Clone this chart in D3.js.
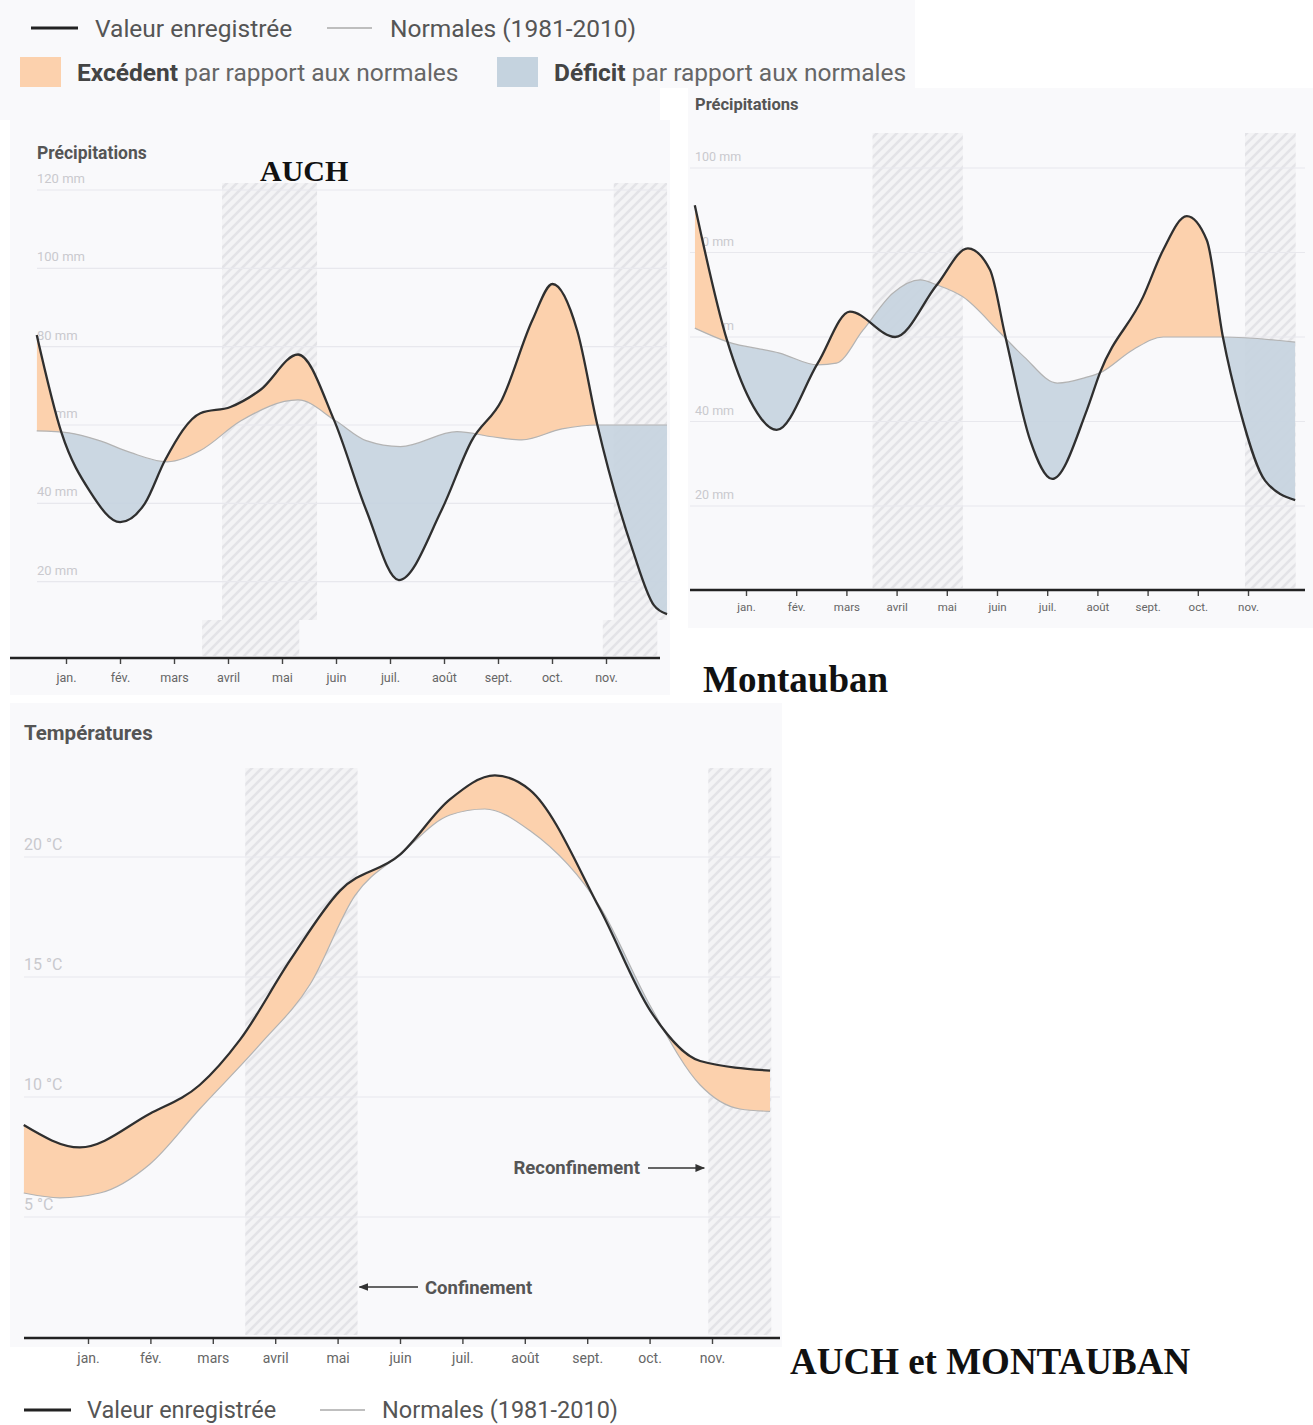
<!DOCTYPE html>
<html><head><meta charset="utf-8">
<script src="https://cdn.jsdelivr.net/npm/d3@7"></script>
<style>body{margin:0;background:#fff} svg{display:block}</style>
</head><body>
<svg id="c" width="1313" height="1425"></svg>
<script>
// ---------- DATA ----------
const months = ["jan.","fév.","mars","avril","mai","juin","juil.","août","sept.","oct.","nov."];
// confinement periods in months since 1 Jan 2020
const confinements = [[2.52, 4.32], [9.94, 10.95]];

// AUCH precipitation (mm)
const auchT    = [-0.99,-0.52,0.02,0.59,1.06,1.44,2.11,2.68,3.25,3.96,4.64,5.25,5.87,6.68,7.25,7.82,8.4,8.78,9.25,9.63,10.3,10.7,10.95];
const auchRain = [83,58,43,35.2,40,51,63,64.6,69,78,61.3,38.3,20.4,38.3,56,66.4,86.8,96,84,60,28,14,11.7];
const auchNormT = [-0.99,-0.38,0.2,0.78,1.48,2.11,2.87,3.96,4.68,5.25,5.9,6.97,7.64,8.2,8.96,9.63,10.95];
const auchNorm  = [58.5,58,56,53,50.6,53.5,61,66.4,61,56,54.5,58.3,57,56.2,59,60,60];

// MONTAUBAN precipitation (mm)
const montT    = [-1.02,-0.38,0.08,0.61,1.43,2.07,2.97,3.8,4.42,4.86,5.16,5.66,6.1,6.79,7.05,7.91,8.31,8.78,9.18,9.5,9.84,10.34,10.94];
const montRain = [91.2,59.3,45,38,53.8,66,60,72.3,81,75.9,60.5,35.6,26.4,42.7,51.5,69.5,80.6,88.6,82.9,60,42.7,26,21.4];
const montNormT = [-1.02,-0.38,0.67,1.43,1.8,2.33,2.93,3.47,3.81,4.32,5.06,5.54,6.2,6.79,7.05,7.71,8.31,9.5,10.94];
const montNorm  = [62.1,58.9,56.2,53.4,53.8,61.6,70.4,73.5,72.3,69.5,61,55.3,49.1,50.5,51.5,57,60,60,58.8];

// Temperatures (°C)
const tempT = [-1.03,-0.13,0.99,1.79,2.44,3.24,4.04,5.0,5.8,6.52,7.08,8.21,9.01,9.81,10.93];
const temp  = [8.83,7.9,9.3,10.5,12.4,15.7,18.6,20.1,22.4,23.4,22.8,17.8,13.6,11.5,11.1];
const tempNormT = [-1.03,-0.45,0.19,0.99,1.79,2.76,3.56,4.28,5.0,5.8,6.36,7.08,8.21,9.01,9.81,10.45,10.93];
const tempNorm  = [6.0,5.8,6.0,7.2,9.5,12.2,14.7,18.4,20.1,21.75,22.0,21.1,17.9,13.8,10.5,9.5,9.4];

const auchTicks = [20,40,60,80,100,120];
const montTicks = [20,40,60,80,100];
const tempTicks = [5,10,15,20];

// ---------- STYLE ----------
const COL = {excess:"#fcd1ad", deficit:"#c5d3df", rec:"#2f2f2f", norm:"#b3b3b3",
  grid:"#e8e8ed", ylab:"#c9c9ce", text:"#555", panel:"#f9f9fb"};
const SANS = "Roboto, 'Open Sans', sans-serif";
const SERIF = "'Liberation Serif', 'DejaVu Serif', serif";

const svg = d3.select("#c");
const defs = svg.append("defs");
const pat = defs.append("pattern").attr("id","hatch").attr("width",10).attr("height",10)
  .attr("patternUnits","userSpaceOnUse");
pat.append("rect").attr("width",10).attr("height",10).attr("fill","#f3f3f5");
pat.append("path").attr("d","M-1,1 l2,-2 M0,10 l10,-10 M9,11 l2,-2")
  .attr("stroke","#e3e3e7").attr("stroke-width",2.6);
const mk = defs.append("marker").attr("id","arr").attr("viewBox","0 0 10 10").attr("refX",9).attr("refY",5)
  .attr("markerWidth",7).attr("markerHeight",7).attr("orient","auto-start-reverse");
mk.append("path").attr("d","M0,1 L10,5 L0,9 z").attr("fill","#333");

// panels
const panels = [[0,0,660,120],[660,0,255,88],[10,120,660,575],[688,88,625,540],[10,703,772,644]];
panels.forEach(p=>svg.append("rect").attr("x",p[0]).attr("y",p[1]).attr("width",p[2]).attr("height",p[3]).attr("fill",COL.panel));

function pts(T,V){ return T.map((t,i)=>[t,V[i]]); }

function drawGrid(g, y, ticks, x1, x2, lx, fs, fmt){
  g.selectAll(null).data(ticks).join("line")
    .attr("x1",x1).attr("x2",x2).attr("y1",d=>y(d)).attr("y2",d=>y(d))
    .attr("stroke",COL.grid).attr("stroke-width",1.2);
  g.selectAll(null).data(ticks).join("text")
    .attr("x",lx).attr("y",d=>y(d)-7).text(fmt)
    .attr("fill",COL.ylab).style("font",`${fs}px ${SANS}`);
}
function drawHatch(g, x, y1, y2){
  g.selectAll(null).data(confinements).join("rect")
    .attr("x",d=>x(d[0])).attr("width",d=>x(d[1])-x(d[0]))
    .attr("y",y1).attr("height",y2-y1).attr("fill","url(#hatch)");
}
function drawSeries(g, id, x, y, rec, norm, top, bottom){
  const line = d3.line().x(d=>x(d[0])).y(d=>y(d[1])).curve(d3.curveMonotoneX);
  const areaTo = yb => d3.area().x(d=>x(d[0])).y0(yb).y1(d=>y(d[1])).curve(d3.curveMonotoneX);
  defs.append("clipPath").attr("id",id+"-aN").append("path").attr("d",areaTo(top)(norm));
  defs.append("clipPath").attr("id",id+"-bN").append("path").attr("d",areaTo(bottom)(norm));
  g.append("path").attr("d",areaTo(bottom)(rec)).attr("fill",COL.excess).attr("clip-path",`url(#${id}-aN)`);
  g.append("path").attr("d",areaTo(top)(rec)).attr("fill",COL.deficit).attr("fill-opacity",0.9).attr("clip-path",`url(#${id}-bN)`);
  g.append("path").attr("d",line(norm)).attr("fill","none").attr("stroke",COL.norm).attr("stroke-width",1.2);
  g.append("path").attr("d",line(rec)).attr("fill","none").attr("stroke",COL.rec).attr("stroke-width",2.3);
}
function drawAxis(g, x, yPos, x1, x2, fs, pad){
  const ax = d3.axisBottom(x).tickValues(d3.range(months.length)).tickFormat(i=>months[i]).tickSize(6).tickPadding(pad);
  const a = g.append("g").attr("transform",`translate(0,${yPos})`).call(ax);
  a.select(".domain").remove();
  a.selectAll(".tick line").attr("stroke","#444").attr("stroke-width",1.4);
  a.selectAll(".tick text").attr("fill","#666").style("font",`${fs}px ${SANS}`);
  g.append("line").attr("x1",x1).attr("x2",x2).attr("y1",yPos).attr("y2",yPos)
    .attr("stroke","#222").attr("stroke-width",2.4);
}

// ---------- AUCH ----------
{
  const xu = d3.scaleLinear().domain([0,1]).range([89.0, 89.0+52.79]); // upper (plot) part
  const xa = d3.scaleLinear().domain([0,1]).range([66, 120]);          // lower (axis) part
  const y = d3.scaleLinear().domain([0,120]).range([660,190]);
  defs.append("clipPath").attr("id","auchUp").append("rect").attr("x",10).attr("y",120).attr("width",660).attr("height",500);
  defs.append("clipPath").attr("id","auchLo").append("rect").attr("x",10).attr("y",620).attr("width",660).attr("height",37);
  const up = svg.append("g").attr("clip-path","url(#auchUp)");
  drawHatch(up, xu, 183, 620);
  drawGrid(up, y, auchTicks, 37, 667, 37, 13, d=>d+" mm");
  drawSeries(up, "auch", xu, y, pts(auchT,auchRain), pts(auchNormT,auchNorm), 120, 620);
  const lo = svg.append("g").attr("clip-path","url(#auchLo)");
  drawHatch(lo, xa, 620, 656);
  drawAxis(svg.append("g"), xa, 658, 10, 660, 12.5, 9);
  svg.append("text").attr("x",37).attr("y",159).text("Précipitations")
    .attr("fill",COL.text).style("font",`bold 17.5px ${SANS}`);
  svg.append("text").attr("x",260).attr("y",181).text("AUCH")
    .attr("fill","#111").style("font",`bold 30px ${SERIF}`);
}

// ---------- MONTAUBAN ----------
{
  const x = d3.scaleLinear().domain([0,1]).range([746, 796.2]);
  const y = d3.scaleLinear().domain([0,100]).range([590.5,168]);
  const g = svg.append("g");
  drawHatch(g, x, 133, 588);
  drawGrid(g, y, montTicks, 690, 1305, 695, 12.5, d=>d+" mm");
  drawSeries(g, "mont", x, y, pts(montT,montRain), pts(montNormT,montNorm), 100, 590);
  drawAxis(g, x, 590, 690, 1305, 11.5, 7);
  svg.append("text").attr("x",695).attr("y",110).text("Précipitations")
    .attr("fill",COL.text).style("font",`bold 16.5px ${SANS}`);
  svg.append("text").attr("x",703).attr("y",692).text("Montauban")
    .attr("fill","#111").style("font",`bold 37px ${SERIF}`);
}

// ---------- TEMPERATURES ----------
{
  const x = d3.scaleLinear().domain([0,1]).range([88, 150.4]);
  const y = d3.scaleLinear().domain([0,20]).range([1337,857]);
  const g = svg.append("g");
  drawHatch(g, x, 768, 1335);
  drawGrid(g, y, tempTicks, 24, 780, 24, 16, d=>d+" °C");
  drawSeries(g, "temp", x, y, pts(tempT,temp), pts(tempNormT,tempNorm), 740, 1337);
  drawAxis(g, x, 1338, 24, 780, 14, 9);
  svg.append("text").attr("x",24).attr("y",740).text("Températures")
    .attr("fill",COL.text).style("font",`bold 20.5px ${SANS}`);
  // annotations
  svg.append("text").attr("x",640).attr("y",1174).attr("text-anchor","end").text("Reconfinement")
    .attr("fill","#555").style("font",`bold 18.5px ${SANS}`);
  svg.append("line").attr("x1",648).attr("x2",x(confinements[1][0])-4).attr("y1",1168).attr("y2",1168)
    .attr("stroke","#333").attr("stroke-width",1.4).attr("marker-end","url(#arr)");
  svg.append("text").attr("x",425).attr("y",1294).text("Confinement")
    .attr("fill","#555").style("font",`bold 18.5px ${SANS}`);
  svg.append("line").attr("x1",418).attr("x2",x(confinements[0][1])+2).attr("y1",1287).attr("y2",1287)
    .attr("stroke","#333").attr("stroke-width",1.4).attr("marker-end","url(#arr)");
  svg.append("text").attr("x",790).attr("y",1374).text("AUCH et MONTAUBAN")
    .attr("fill","#111").style("font",`bold 37px ${SERIF}`);
}

// ---------- LEGENDS ----------
function legendLines(x0, xn, yc, dx, fs, dy){
  svg.append("line").attr("x1",x0).attr("x2",x0+47).attr("y1",yc).attr("y2",yc).attr("stroke","#222").attr("stroke-width",3);
  svg.append("text").attr("x",x0+dx).attr("y",yc+dy).text("Valeur enregistrée").attr("fill","#555").style("font",`${fs}px ${SANS}`);
  svg.append("line").attr("x1",xn).attr("x2",xn+45).attr("y1",yc).attr("y2",yc).attr("stroke","#aaa").attr("stroke-width",1.6);
  svg.append("text").attr("x",xn+dx-1).attr("y",yc+dy).text("Normales (1981-2010)").attr("fill","#555").style("font",`${fs}px ${SANS}`);
}
legendLines(31, 327, 28, 64, 24.5, 9);
legendLines(24, 320, 1410, 63, 23.5, 8);

const fillLegend = [
  {x:20, col:COL.excess, bold:"Excédent", rest:" par rapport aux normales"},
  {x:497, col:COL.deficit, bold:"Déficit", rest:" par rapport aux normales"}
];
fillLegend.forEach(d=>{
  svg.append("rect").attr("x",d.x).attr("y",57).attr("width",41).attr("height",30).attr("fill",d.col);
  const t = svg.append("text").attr("x",d.x+57).attr("y",81).style("font",`24.5px ${SANS}`);
  t.append("tspan").text(d.bold).attr("fill","#444").style("font-weight","bold");
  t.append("tspan").text(d.rest).attr("fill","#666");
});
</script>
</body></html>
